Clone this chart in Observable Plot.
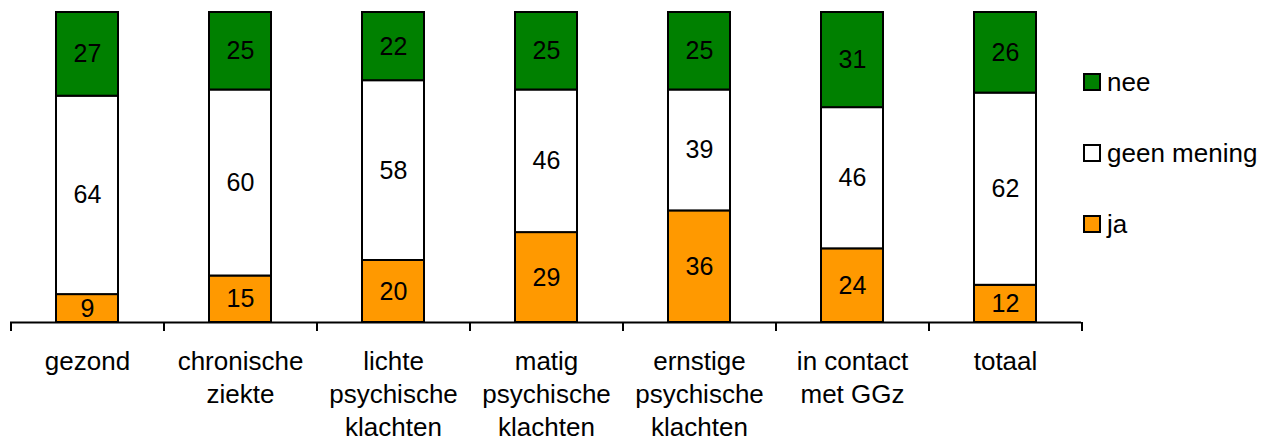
<!DOCTYPE html>
<html>
<head>
<meta charset="utf-8">
<script src="https://cdn.jsdelivr.net/npm/d3@7"></script>
<script src="https://cdn.jsdelivr.net/npm/@observablehq/plot@0.6"></script>
<style>
  html, body { margin: 0; padding: 0; background: #fff; }
  #wrap { position: relative; width: 1270px; height: 436px; font-family: "Liberation Sans", Arial, sans-serif; }
  #legend { position: absolute; left: 1083px; top: 0; }
  .item { position: absolute; left: 0; display: flex; align-items: center; white-space: nowrap; font-size: 26px; color: #000; height: 18px; }
  .sw { width: 18px; height: 18px; box-sizing: border-box; border: 2px solid #000; margin-right: 6px; flex: none; }
</style>
</head>
<body>
<div id="wrap"><div id="legend"></div></div>
<script>
const categories = ["gezond", "chronische\nziekte", "lichte\npsychische\nklachten", "matig\npsychische\nklachten", "ernstige\npsychische\nklachten", "in contact\nmet GGz", "totaal"];
const series = ["ja", "geen mening", "nee"];
const ja = [9, 15, 20, 29, 36, 24, 12];
const geenMening = [64, 60, 58, 46, 39, 46, 62];
const nee = [27, 25, 22, 25, 25, 31, 26];
const colors = ["#ff9900", "#ffffff", "#008000"];

const valuesBySeries = [ja, geenMening, nee];
const data = [];
categories.forEach((c, i) => {
  series.forEach((s, j) => data.push({cat: c, series: s, value: valuesBySeries[j][i]}));
});

const W = 1270, H = 436;
const mL = 10, mR = 189, mT = 12, mB = 114;
const step = (W - mL - mR) / categories.length;
const fs = 26;

const stackOpts = {x: "cat", y: "value", z: "series", order: series, offset: "normalize"};

const chart = Plot.plot({
  width: W,
  height: H,
  marginLeft: mL,
  marginRight: mR,
  marginTop: mT,
  marginBottom: mB,
  style: {fontFamily: '"Liberation Sans", Arial, sans-serif', fontSize: fs + "px", background: "#fff", color: "#000"},
  x: {domain: categories, paddingInner: 0.595, paddingOuter: 0.2975, axis: null},
  y: {domain: [0, 1], axis: null},
  color: {domain: series, range: colors},
  marks: [
    Plot.barY(data, Plot.stackY({...stackOpts, fill: "series", stroke: "#000", strokeWidth: 2})),
    Plot.text(data, Plot.stackY({...stackOpts, text: "value", fontSize: 25, fill: "#000"})),
    Plot.ruleY([0], {stroke: "#000", strokeWidth: 2}),
    Plot.axisX({tickSize: 9, tickFormat: () => "", label: null, dx: -step / 2, strokeWidth: 2, stroke: "#000"}),
    Plot.axisX([categories[categories.length - 1]], {tickSize: 9, tickFormat: () => "", label: null, dx: step / 2, strokeWidth: 2, stroke: "#000"}),
    Plot.text(categories, {x: d => d, frameAnchor: "bottom", lineAnchor: "top", dy: 24.7, lineHeight: 1.26, fontSize: fs, fill: "#000"})
  ]
});
document.getElementById("wrap").prepend(chart);

const legend = document.getElementById("legend");
const legendOrder = series.slice().reverse();
legendOrder.forEach((s, i) => {
  const item = document.createElement("div");
  item.className = "item";
  item.style.top = (73 + i * 71) + "px";
  const sw = document.createElement("div");
  sw.className = "sw";
  sw.style.background = colors[series.indexOf(s)];
  const t = document.createElement("span");
  t.textContent = s;
  item.appendChild(sw);
  item.appendChild(t);
  legend.appendChild(item);
});
</script>
</body>
</html>
